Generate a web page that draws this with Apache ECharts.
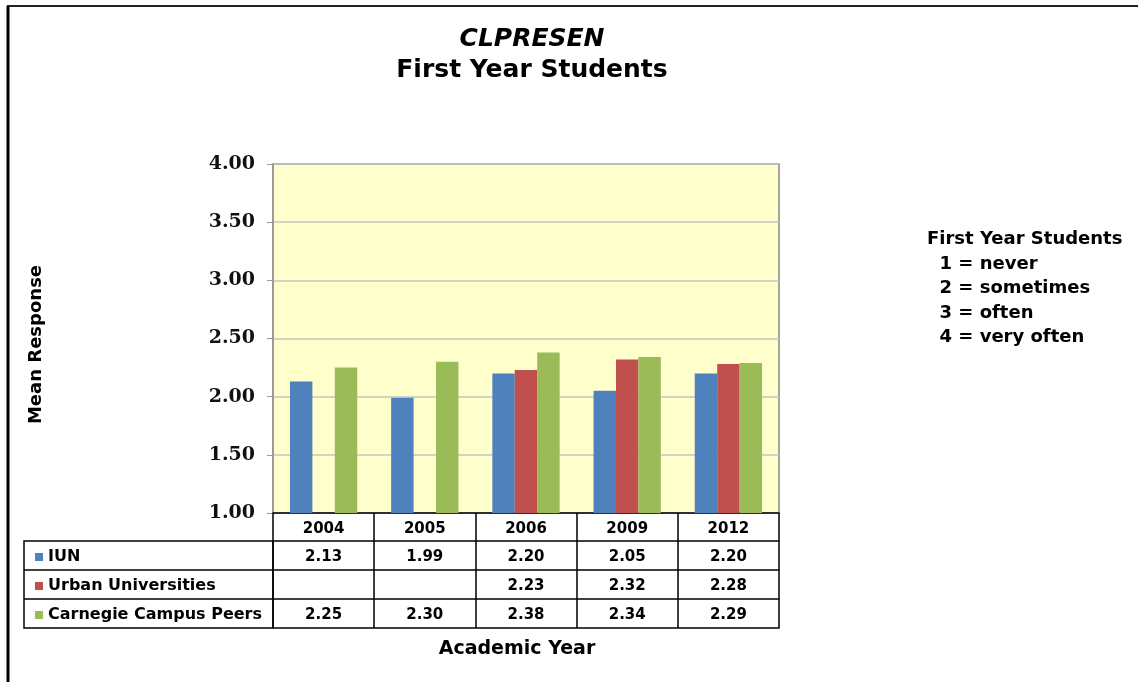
<!DOCTYPE html>
<html>
<head>
<meta charset="UTF-8">
<title>CLPRESEN</title>
<script src="https://cdn.jsdelivr.net/npm/echarts@6/dist/echarts.min.js"></script>
<style>
  html, body { margin: 0; padding: 0; background: #fff; }
  #main { width: 1138px; height: 682px; }
</style>
</head>
<body>
<div id="main"></div>
<script>
// data
const years = ['2004', '2005', '2006', '2009', '2012'];
const iun = [2.13, 1.99, 2.20, 2.05, 2.20];
const urban = [null, null, 2.23, 2.32, 2.28];
const carnegie = [2.25, 2.30, 2.38, 2.34, 2.29];
const seriesNames = ['IUN', 'Urban Universities', 'Carnegie Campus Peers'];
const colors = ['#4F81BD', '#C0504D', '#9BBB59'];

const font = 'DejaVu Sans';
const fmt = v => (v == null ? '' : v.toFixed(2));

// one extra bottom axis per table row, labels come from the series arrays
function tableAxis(offset, values, tickLen) {
  return {
    type: 'category', data: years, position: 'bottom', gridIndex: 0, offset: offset,
    axisLine: { show: true, lineStyle: { color: '#000', width: 1.5 } },
    axisTick: { show: tickLen > 0, length: tickLen, lineStyle: { color: '#000', width: 1.5 } },
    axisLabel: {
      show: !!values, margin: 9, color: '#000', fontFamily: font, fontWeight: 'bold', fontSize: 15,
      formatter: (v, i) => values ? fmt(values[i]) : ''
    },
    splitLine: { show: false }
  };
}

const chart = echarts.init(document.getElementById('main'));
chart.setOption({
  animation: false,
  backgroundColor: '#fff',
  title: [
    { text: 'CLPRESEN', left: 527, top: 22, textAlign: 'center',
      textStyle: { fontFamily: font, fontStyle: 'italic', fontWeight: 'bold', fontSize: 25, color: '#000' } },
    { text: 'First Year Students', left: 527, top: 53, textAlign: 'center',
      textStyle: { fontFamily: font, fontWeight: 'bold', fontSize: 25, color: '#000' } },
    { text: 'Academic Year', left: 512, top: 635, textAlign: 'center',
      textStyle: { fontFamily: font, fontWeight: 'bold', fontSize: 19, color: '#000' } },
    { text: 'First Year Students\n  1 = never\n  2 = sometimes\n  3 = often\n  4 = very often',
      left: 927, top: 227, padding: 0,
      textStyle: { fontFamily: font, fontWeight: 'bold', fontSize: 18, lineHeight: 24.6, color: '#000' } }
  ],
  legend: {
    orient: 'vertical', left: 30, top: 543, itemGap: 11,
    icon: 'rect', itemWidth: 8, itemHeight: 8, selectedMode: false,
    textStyle: { fontFamily: font, fontWeight: 'bold', fontSize: 16, lineHeight: 18, color: '#000' },
    data: seriesNames
  },
  grid: {
    left: 273, top: 164, width: 506, height: 349, show: true,
    backgroundColor: '#FFFFCC', borderColor: '#888', borderWidth: 1.5
  },
  xAxis: [
    {
      type: 'category', data: years, position: 'bottom',
      axisLine: { show: true, lineStyle: { color: '#000', width: 1.5 } },
      axisTick: { show: true, length: 28, lineStyle: { color: '#000', width: 1.5 } },
      axisLabel: { margin: 9, color: '#000', fontFamily: font, fontWeight: 'bold', fontSize: 15 },
      splitLine: { show: false }
    },
    tableAxis(28, iun, 29),
    tableAxis(57, urban, 29),
    tableAxis(86, carnegie, 29),
    tableAxis(115, null, 0)
  ],
  yAxis: {
    type: 'value', min: 1, max: 4, interval: 0.5,
    name: 'Mean Response', nameLocation: 'middle', nameGap: 228,
    nameTextStyle: { fontFamily: font, fontWeight: 'bold', fontSize: 18, color: '#000', padding: [0, 12, 0, 0] },
    axisLine: { show: true, lineStyle: { color: '#999', width: 1.5 } },
    axisTick: { show: true, length: 6, lineStyle: { color: '#999' } },
    axisLabel: {
      margin: 18, color: '#111', fontFamily: 'DejaVu Serif', fontWeight: 'bold', fontSize: 19,
      formatter: v => v.toFixed(2)
    },
    splitLine: { lineStyle: { color: '#c4c4c4', width: 1.5 } }
  },
  series: [iun, urban, carnegie].map((d, i) => ({
    name: seriesNames[i], type: 'bar', data: d,
    barGap: 0, barCategoryGap: '33.5%',
    itemStyle: { color: colors[i] }
  })),
  graphic: [
    // outer frame (top and left edges only)
    { type: 'line', shape: { x1: 7, y1: 6, x2: 1138, y2: 6 }, style: { stroke: '#222', lineWidth: 2 } },
    { type: 'line', shape: { x1: 8, y1: 6, x2: 8, y2: 682 }, style: { stroke: '#000', lineWidth: 3 } },
    // left part of the data table (legend cells)
    { type: 'rect', shape: { x: 24, y: 541, width: 249, height: 87 },
      style: { fill: 'none', stroke: '#000', lineWidth: 1.5 } },
    { type: 'line', shape: { x1: 24, y1: 570, x2: 273, y2: 570 }, style: { stroke: '#000', lineWidth: 1.5 } },
    { type: 'line', shape: { x1: 24, y1: 599, x2: 273, y2: 599 }, style: { stroke: '#000', lineWidth: 1.5 } }
  ]
});
</script>
</body>
</html>
